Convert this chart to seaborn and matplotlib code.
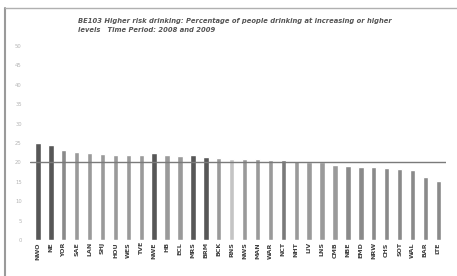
import matplotlib
matplotlib.use("Agg")
import matplotlib.pyplot as plt
import seaborn as sns
import pandas as pd
from matplotlib.lines import Line2D

sns.set_theme(style="white")
plt.rcParams['font.family'] = ['DejaVu Sans']

title = ("BE103 Higher risk drinking: Percentage of people drinking at increasing or higher\n"
         "levels   Time Period: 2008 and 2009")

areas = ["NWO", "NE", "YOR", "SAE", "LAN", "SHJ", "HOU", "WES", "TVE", "NWE",
         "HB", "ECL", "MRS", "BRM", "BCK", "RNS", "NWS", "MAN", "WAR", "NCT",
         "NHT", "LIV", "LNS", "CMB", "NBE", "EMD", "NRW", "CHS", "SOT", "WAL",
         "BAR", "LTE"]
values = [24.9, 24.4, 23.3, 22.6, 22.4, 22.2, 22.0, 22.0, 21.9, 22.3,
          21.8, 21.7, 22.0, 21.5, 21.2, 21.0, 20.9, 20.8, 20.7, 20.5,
          20.3, 20.2, 20.0, 19.4, 19.1, 18.9, 18.7, 18.6, 18.3, 18.1,
          16.3, 15.3]
shade = ["#575757", "#575757", "#8a8a8a", "#9a9a9a", "#9a9a9a", "#9a9a9a", "#9a9a9a", "#9a9a9a", "#9a9a9a", "#575757",
         "#9a9a9a", "#9a9a9a", "#575757", "#575757", "#9a9a9a", "#c4c4c4", "#9a9a9a", "#9a9a9a", "#9a9a9a", "#7a7a7a",
         "#9a9a9a", "#9a9a9a", "#9a9a9a", "#9a9a9a", "#8a8a8a", "#8a8a8a", "#8a8a8a", "#8a8a8a", "#8a8a8a", "#8a8a8a",
         "#8a8a8a", "#8a8a8a"]
england_avg = 20.1
yticks = [0, 5, 10, 15, 20, 25, 30, 35, 40, 45, 50]

df = pd.DataFrame({"area": areas, "value": values})

fig = plt.figure(figsize=(4.57, 2.76), dpi=100)
fig.patch.set_facecolor("white")
ax = fig.add_axes([0.066, 0.13, 0.91, 0.725])

sns.barplot(data=df, x="area", y="value", hue="area", palette=shade,
            width=0.42, legend=False, ax=ax, saturation=1)

ax.axhline(england_avg, color="#7a7a7a", lw=1.0, xmin=0.0, xmax=1.0, zorder=3)

ax.set_ylim(0, 51.5)
ax.set_xlim(-0.6, len(areas) - 0.4)
ax.set_yticks(yticks)
ax.set_yticklabels([str(t) for t in yticks], fontsize=3.8, color="#b5b5b5")
ax.tick_params(axis="x", labelrotation=90, labelsize=4.5, labelcolor="#404040",
               pad=1.5, length=0)
ax.tick_params(axis="y", pad=6, length=0)
for lbl in ax.get_xticklabels():
    lbl.set_fontweight("bold")
ax.set_xlabel("")
ax.set_ylabel("")
for s in ax.spines.values():
    s.set_visible(False)

fig.text(0.171, 0.935, title, fontsize=4.9, fontweight="bold", style="italic",
         color="#555555", ha="left", va="top", linespacing=1.5)

# page frame lines
fig.add_artist(Line2D([0.012, 0.012], [0.0, 0.97], transform=fig.transFigure,
                      color="#9a9a9a", lw=1.5))
fig.add_artist(Line2D([0.012, 1.0], [0.97, 0.97], transform=fig.transFigure,
                      color="#b0b0b0", lw=1.0))

fig.savefig("out.png", dpi=100)
